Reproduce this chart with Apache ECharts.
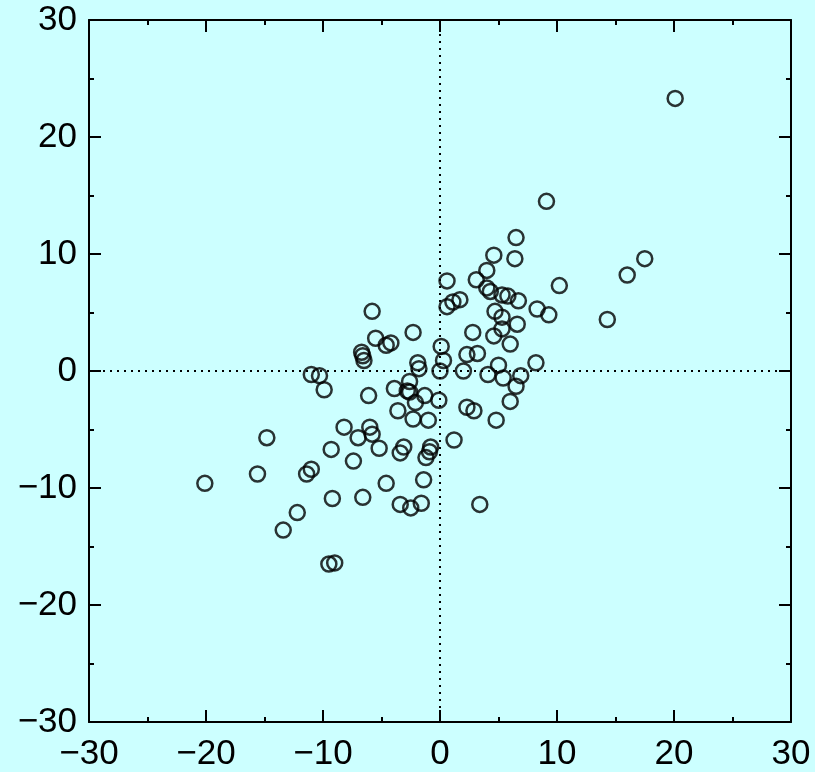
<!DOCTYPE html>
<html lang="en">
<head>
    <meta charset="UTF-8">
    <title>scatter</title>
    <style>
        body{ margin: 0; background-color: #CCFFFF; }
        #chart{ width: 815px; height: 772px; }
    </style>
    <script src="https://cdn.jsdelivr.net/npm/echarts@6/dist/echarts.min.js"></script>
</head>
<body>
<div id="chart"></div>
<script type="text/javascript">
    // axis range
    var axisMin = -30, axisMax = 30, axisStep = 10;

    // point positions
    var xs = [20.1, 9.1, 6.5, 4.6, 6.4, 4.0, 0.6, 3.1, 4.0, 4.3,
              5.3, 5.8, 6.7, 0.6, 1.1, 1.7, 10.2, 16.0, 17.5, 8.3,
              9.3, 14.3, 4.7, 5.3, 5.3, 4.6, 6.6, 2.8, 6.0, 0.1,
              0.3, 2.3, 3.2, 2.0, 0.0, 5.0, 8.2, 4.1, 5.4, 6.9,
              6.5, -0.1, -1.3, 6.0, 2.3, 2.9, -1.0, 4.8, 1.2, -5.8,
              -2.3, -5.5, -4.6, -4.2, -6.7, -6.6, -6.5, -1.9, -1.8, -11.0,
              -10.3, -9.9, -6.1, -3.9, -2.6, -2.8, -2.6, -2.1, -3.6, -2.3,
              -8.2, -6.0, -5.8, -7.0, -14.8, -9.3, -5.2, -3.1, -3.4, -0.8,
              -0.9, -1.2, -7.4, -15.6, -11.0, -11.4, -20.1, -4.6, -1.4, -9.2,
              -6.6, -3.4, -2.5, -1.6, 3.4, -12.2, -13.4, -9.5, -9.0];
    var ys = [23.3, 14.5, 11.4, 9.9, 9.6, 8.6, 7.7, 7.8, 7.1, 6.8,
              6.5, 6.4, 6.0, 5.5, 5.9, 6.1, 7.3, 8.2, 9.6, 5.3,
              4.8, 4.4, 5.1, 4.6, 3.6, 3.0, 4.0, 3.3, 2.3, 2.1,
              0.9, 1.4, 1.5, 0.0, 0.0, 0.5, 0.7, -0.3, -0.6, -0.4,
              -1.3, -2.5, -2.1, -2.6, -3.1, -3.4, -4.2, -4.2, -5.9, 5.1,
              3.3, 2.8, 2.2, 2.4, 1.6, 1.3, 0.9, 0.7, 0.2, -0.3,
              -0.4, -1.6, -2.1, -1.5, -0.9, -1.7, -1.8, -2.7, -3.4, -4.1,
              -4.8, -4.8, -5.4, -5.7, -5.7, -6.7, -6.6, -6.5, -7.0, -6.5,
              -6.9, -7.4, -7.7, -8.8, -8.4, -8.8, -9.6, -9.6, -9.3, -10.9,
              -10.8, -11.4, -11.7, -11.3, -11.4, -12.1, -13.6, -16.5, -16.4];

    var points = [];
    for (var i = 0; i < xs.length; i++) {
        points.push([xs[i], ys[i]]);
    }

    function minusSign(v){
        return String(v).replace('-', '\u2212');
    }

    function makeAxis(pos, showLabel){
        return {
            type: 'value',
            position: pos,
            min: axisMin,
            max: axisMax,
            interval: axisStep,
            axisLine: {show: true, onZero: false, lineStyle: {color: '#000', width: 2}},
            axisTick: {show: true, inside: true, length: 12, lineStyle: {color: '#000', width: 2}},
            minorTick: {show: true, splitNumber: 2, length: 5, lineStyle: {color: '#000', width: 2}},
            splitLine: {show: false},
            minorSplitLine: {show: false},
            axisLabel: {
                show: showLabel,
                color: '#000',
                fontSize: 35,
                fontFamily: 'Liberation Sans, Arial, sans-serif',
                margin: pos === 'bottom' ? 15 : 12,
                showMinLabel: true,
                showMaxLabel: true,
                formatter: minusSign
            }
        };
    }

    var option = {
        backgroundColor: '#CCFFFF',
        animation: false,
        grid: {left: 89, right: 24, top: 20, bottom: 49, containLabel: false},
        xAxis: [makeAxis('bottom', true), makeAxis('top', false)],
        yAxis: [makeAxis('left', true), makeAxis('right', false)],
        series: [{
            type: 'scatter',
            data: points,
            symbol: 'circle',
            symbolSize: 15,
            itemStyle: {color: 'rgba(0,0,0,0)', borderColor: '#000', borderWidth: 2.5},
            markLine: {
                silent: true,
                symbol: 'none',
                label: {show: false},
                lineStyle: {color: '#000', width: 2, type: [2, 5]},
                data: [{xAxis: 0}, {yAxis: 0}]
            }
        }]
    };
    var chart = echarts.init(document.getElementById('chart'));
    chart.setOption(option);
</script>
</body>
</html>
